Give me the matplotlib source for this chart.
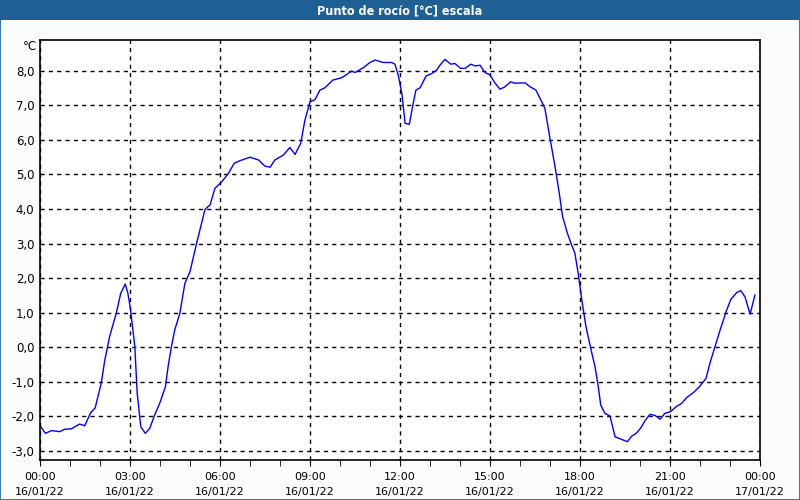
import matplotlib
matplotlib.use("Agg")
import matplotlib.pyplot as plt
from matplotlib.patches import Rectangle
from matplotlib.ticker import MultipleLocator, FuncFormatter

# hours since 16/01/22 00:00 and dew point in °C
hours = [0.0, 0.18, 0.38, 0.66, 0.82, 1.04, 1.32, 1.49, 1.69, 1.84, 2.04, 2.16,
         2.32, 2.54, 2.69, 2.84, 2.93, 3.02, 3.16, 3.24, 3.36, 3.51, 3.66, 3.82,
         3.99, 4.18, 4.27, 4.38, 4.49, 4.66, 4.83, 5.0, 5.22, 5.5, 5.67, 5.83,
         6.06, 6.28, 6.47, 6.67, 7.0, 7.28, 7.5, 7.67, 7.83, 8.11, 8.33, 8.5,
         8.69, 8.83, 9.0, 9.17, 9.33, 9.5, 9.76, 10.06, 10.39, 10.5, 10.78, 11.0,
         11.17, 11.44, 11.72, 11.83, 11.94, 12.06, 12.17, 12.31, 12.44, 12.53,
         12.67, 12.87, 13.06, 13.22, 13.33, 13.5, 13.69, 13.83, 14.02, 14.17,
         14.36, 14.5, 14.67, 14.83, 15.0, 15.17, 15.33, 15.47, 15.69, 15.83,
         16.17, 16.33, 16.53, 16.67, 16.83, 17.0, 17.17, 17.31, 17.42, 17.58,
         17.72, 17.83, 17.94, 18.06, 18.2, 18.37, 18.5, 18.61, 18.69, 18.83,
         19.0, 19.17, 19.44, 19.58, 19.72, 19.87, 20.02, 20.17, 20.33, 20.5,
         20.67, 20.83, 21.02, 21.2, 21.39, 21.56, 21.78, 21.98, 22.2, 22.33,
         22.5, 22.67, 22.89, 23.03, 23.22, 23.36, 23.5, 23.67, 23.83]
dew = [-2.27, -2.49, -2.41, -2.44, -2.37, -2.36, -2.22, -2.27, -1.89, -1.75, -1.04, -0.37,
       0.31, 0.98, 1.56, 1.83, 1.56, 1.08, 0.02, -1.33, -2.30, -2.49, -2.34, -1.96,
       -1.62, -1.14, -0.56, 0.02, 0.50, 0.98, 1.85, 2.19, 3.01, 3.99, 4.12, 4.60,
       4.79, 5.03, 5.32, 5.40, 5.50, 5.42, 5.24, 5.21, 5.42, 5.56, 5.78, 5.58,
       5.90, 6.57, 7.10, 7.17, 7.44, 7.51, 7.73, 7.80, 7.99, 7.95, 8.09, 8.24,
       8.31, 8.24, 8.24, 8.19, 7.88, 7.35, 6.48, 6.45, 7.06, 7.44,
       7.51, 7.85, 7.92, 8.02, 8.16, 8.33, 8.19, 8.21, 8.07, 8.07,
       8.19, 8.14, 8.16, 7.95, 7.88, 7.64, 7.47, 7.52, 7.68, 7.64,
       7.65, 7.54, 7.44, 7.20, 6.91, 6.04, 5.22, 4.45, 3.78, 3.30,
       2.96, 2.72, 2.14, 1.37, 0.59, -0.08, -0.56, -1.14, -1.67, -1.91,
       -1.99, -2.59, -2.68, -2.73, -2.57, -2.49, -2.34, -2.12, -1.94, -1.97,
       -2.08, -1.91, -1.86, -1.72, -1.62, -1.45, -1.31, -1.14, -0.90, -0.46,
       0.02, 0.50, 1.08, 1.39, 1.58, 1.64, 1.46, 0.96, 1.51]

tick_hours = [0, 3, 6, 9, 12, 15, 18, 21, 24]
tick_labels = ["00:00\n16/01/22", "03:00\n16/01/22", "06:00\n16/01/22",
               "09:00\n16/01/22", "12:00\n16/01/22", "15:00\n16/01/22",
               "18:00\n16/01/22", "21:00\n16/01/22", "00:00\n17/01/22"]

bar_col = "#1e5f94"
fig = plt.figure(figsize=(8, 5), dpi=100, facecolor="#fafcfc")
ax = fig.add_axes([0.05, 0.08, 0.90, 0.84])
ax.set_facecolor("white")

ax.plot(hours, dew, color="#0000ff", lw=1)

ax.set_xlim(0, 24)
ax.set_ylim(-3.26, 8.89)
ax.set_xticks(tick_hours)
ax.set_xticklabels(tick_labels, linespacing=1.55)
ax.xaxis.set_minor_locator(MultipleLocator(1))
ax.yaxis.set_major_locator(MultipleLocator(1))
ax.yaxis.set_major_formatter(FuncFormatter(lambda v, p: f"{v:.1f}".replace(".", ",")))
ax.tick_params(axis="x", which="both", length=4, direction="out", labelsize=8, pad=5)
ax.tick_params(axis="y", length=0, labelsize=8.5, pad=4)
ax.grid(True, which="major", color="black", linestyle=(0, (3, 3)), lw=1)

for s in ax.spines.values():
    s.set_linewidth(1.2)
    s.set_color("black")

fig.text(0.046, 0.908, "°C", ha="right", va="center", fontsize=8.5)

# title bar and border
fig.patches.append(Rectangle((0, 0.96), 1, 0.04, transform=fig.transFigure,
                             facecolor=bar_col, edgecolor="none"))
fig.patches.append(Rectangle((0.0006, 0.001), 0.9988, 0.998, transform=fig.transFigure,
                             facecolor="none", edgecolor=bar_col, lw=1.2))
fig.text(0.5, 0.979, "Punto de rocío [°C] escala", ha="center", va="center",
         color="white", fontsize=9, fontweight="bold", stretch="condensed")

fig.savefig("out.png", dpi=100, facecolor=fig.get_facecolor())
